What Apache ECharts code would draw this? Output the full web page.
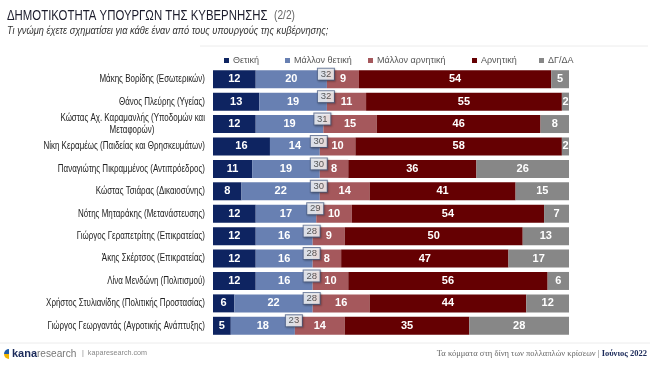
<!DOCTYPE html>
<html><head><meta charset="utf-8">
<script src="https://cdn.jsdelivr.net/npm/echarts@6/dist/echarts.min.js"></script>
<style>html,body{margin:0;padding:0;background:#fff}#c{width:650px;height:365px}</style>
</head><body><div id="c"></div>
<script>
var categories = [
  "Μάκης Βορίδης (Εσωτερικών)",
  "Θάνος Πλεύρης (Υγείας)",
  "Κώστας Αχ. Καραμανλής (Υποδομών και\nΜεταφορών)",
  "Νίκη Κεραμέως (Παιδείας και Θρησκευμάτων)",
  "Παναγιώτης Πικραμμένος (Αντιπρόεδρος)",
  "Κώστας Τσιάρας (Δικαιοσύνης)",
  "Νότης Μηταράκης (Μετανάστευσης)",
  "Γιώργος Γεραπετρίτης (Επικρατείας)",
  "Άκης Σκέρτσος (Επικρατείας)",
  "Λίνα Μενδώνη (Πολιτισμού)",
  "Χρήστος Στυλιανίδης (Πολιτικής Προστασίας)",
  "Γιώργος Γεωργαντάς (Αγροτικής Ανάπτυξης)"
];
var seriesNames = ["Θετική", "Μάλλον θετική", "Μάλλον αρνητική", "Αρνητική", "ΔΓ/ΔΑ"];
var positive      = [12, 13, 12, 16, 11, 8, 12, 12, 12, 12, 6, 5];
var ratherPos     = [20, 19, 19, 14, 19, 22, 17, 16, 16, 16, 22, 18];
var ratherNeg     = [9, 11, 15, 10, 8, 14, 10, 9, 8, 10, 16, 14];
var negative      = [54, 55, 46, 58, 36, 41, 54, 50, 47, 56, 44, 35];
var dkna          = [5, 2, 8, 2, 26, 15, 7, 13, 17, 6, 12, 28];
var totals        = [32, 32, 31, 30, 30, 30, 29, 28, 28, 28, 28, 23];

var colors = ["#0e2461", "#6880b2", "#a5585c", "#650002", "#878787"];
var values = [positive, ratherPos, ratherNeg, negative, dkna];
var LBL_FONT = '10.5px "Liberation Sans", Arial, sans-serif';
var NARROW = 0.76;

var chart = echarts.init(document.getElementById('c'));
var series = seriesNames.map(function(n, i){
  return {
    name: n, type: 'bar', stack: 'a', barWidth: 18,
    itemStyle: {color: colors[i]},
    label: {show: true, position: 'inside', color: '#fff', fontWeight: 'bold',
            fontSize: 11, fontFamily: 'Liberation Sans, Arial'},
    data: values[i]
  };
});
series.push({
  name: 'total', type: 'scatter', symbolSize: 0, z: 10,
  data: totals.map(function(t, i){ return [t, i]; }),
  label: {show: true, position: 'inside', offset: [-1, -5],
    formatter: function(p){ return p.value[0]; },
    backgroundColor: '#fff', borderColor: '#50638a', borderWidth: 1,
    padding: [1, 2, 0, 2], color: '#333', fontSize: 9.5,
    fontFamily: 'Liberation Sans, Arial', width: 12, align: 'center',
    shadowColor: 'rgba(0,0,0,0.25)', shadowBlur: 2, shadowOffsetX: 1, shadowOffsetY: 1},
  tooltip: {show: false}
});
// category labels drawn at axis positions, horizontally condensed
series.push({
  name: 'labels', type: 'custom', clip: false, z: 5,
  data: categories.map(function(c, i){ return [0, i]; }),
  renderItem: function(params, api){
    var idx = params.dataIndex;
    var p = api.coord([0, idx]);
    var x = p[0] - 8, y = p[1];
    var parts = categories[idx].split('\n');
    if (parts.length === 1) {
      return {type: 'text', x: x, y: y, scaleX: NARROW,
        style: {text: parts[0], font: LBL_FONT, fill: '#222', align: 'right', verticalAlign: 'middle'}};
    }
    var w = echarts.format.getTextRect ? 0 : 0;
    return {type: 'group', children: [
      {type: 'text', x: x, y: y - 6, scaleX: NARROW,
        style: {text: parts[0], font: LBL_FONT, fill: '#222', align: 'right', verticalAlign: 'middle'}},
      {type: 'text', x: x - 73, y: y + 6, scaleX: NARROW,
        style: {text: parts[1], font: LBL_FONT, fill: '#222', align: 'center', verticalAlign: 'middle'}}
    ]};
  }
});

var legendX = [219, 280, 363, 467, 534];
var legends = seriesNames.map(function(n, i){
  return {data: [n], left: legendX[i], top: 51, itemWidth: 5, itemHeight: 5, itemGap: 3,
    icon: 'rect', textStyle: {fontSize: 9, color: '#555', fontFamily: 'Liberation Sans, Arial', padding: [0,0,0,-1]}};
});

chart.setOption({
  animation: false,
  grid: {left: 213, right: 81, top: 68, bottom: 28, outerBoundsMode: 'none', containLabel: false},
  legend: legends,
  xAxis: {type: 'value', min: 0, max: 100, show: false},
  yAxis: {type: 'category', inverse: true, data: categories,
    axisLine: {show: false}, axisTick: {show: false}, axisLabel: {show: false}},
  series: series,
  graphic: [
    {type: 'text', x: 7, y: 8, scaleX: 0.76, style: {text: 'ΔΗΜΟΤΙΚΟΤΗΤΑ ΥΠΟΥΡΓΩΝ ΤΗΣ ΚΥΒΕΡΝΗΣΗΣ', fill: '#1c1c2c', font: '15px "Liberation Sans", Arial'}},
    {type: 'text', x: 274, y: 10, scaleX: 0.85, style: {text: '(2/2)', fill: '#666', font: '12px "Liberation Sans", Arial'}},
    {type: 'text', x: 7, y: 25, scaleX: 0.84, style: {text: 'Τι γνώμη έχετε σχηματίσει για κάθε έναν από τους υπουργούς της κυβέρνησης;', fill: '#333', font: 'italic 11px "Liberation Sans", Arial'}},
    {type: 'line', shape: {x1: 200, y1: 46, x2: 648, y2: 46}, style: {stroke: '#ececec', lineWidth: 1}},
    {type: 'line', shape: {x1: 0, y1: 343, x2: 650, y2: 343}, style: {stroke: '#ececec', lineWidth: 1}},
    {type: 'sector', shape: {cx: 9, cy: 354, r: 5, r0: 0, startAngle: Math.PI/2, endAngle: Math.PI}, style: {fill: '#f2b600'}},
    {type: 'sector', shape: {cx: 9, cy: 354, r: 5, r0: 0, startAngle: Math.PI, endAngle: Math.PI*1.5}, style: {fill: '#1e5aa8'}},
    {type: 'text', x: 12, y: 348, style: {text: 'kana', fill: '#1b2a5a', font: 'bold 11px "Liberation Sans", Arial'}},
    {type: 'text', x: 37, y: 348, scaleX: 0.92, style: {text: 'research', fill: '#777', font: '11px "Liberation Sans", Arial'}},
    {type: 'text', x: 82, y: 349, scaleX: 0.9, style: {text: '|  kaparesearch.com', fill: '#888', font: '8px "Liberation Sans", Arial'}},
    {type: 'text', right: 3, top: 349, style: {
      text: '{a|Τα κόμματα στη δίνη των πολλαπλών κρίσεων | }{b|Ιούνιος 2022}',
      rich: {a: {fill: '#666', font: '8.5px "Liberation Serif", "DejaVu Serif", serif'},
             b: {fill: '#1b2a5a', font: 'bold 8.5px "Liberation Serif", "DejaVu Serif", serif'}}}}
  ]
});
</script></body></html>
